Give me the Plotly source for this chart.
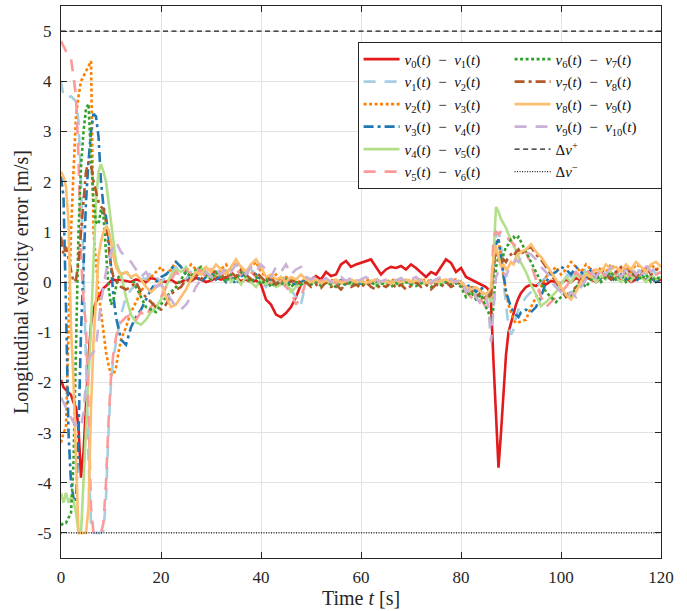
import numpy as np
import plotly.graph_objects as go

# ---------------- data ----------------
# time grid [s]: 0-12 every 0.5 s, 13-85 every 1 s, 85.5-92 every 0.5 s, 93-120 every 1 s
T = np.concatenate([np.arange(0, 12.5, 0.5), np.arange(13, 86, 1.0),
                    np.arange(85.5, 92.5, 0.5), np.arange(93, 121, 1.0)])

E01 = [-1.95, -2.1, -2.15, -2.2, -2.25, -2.4, -2.5, -2.9, -3.9, -3.4, -2.3, -1.5, -0.85, -0.55, -0.4, -0.3, -0.2, -0.12, -0.08, -0.02, 0.02, 0.05, 0.03, 0.05, 0.04,
       0.02, 0.0, 0.05, 0.02, 0.0, 0.08, 0.05, 0.02, 0.0, 0.05,
       -0.02, 0.0, 0.05, 0.02, 0.08, 0.05, 0.0, 0.03, 0.08, 0.05,
       0.1, 0.05, 0.08, 0.02, 0.05, 0.0, 0.03, -0.05, -0.35, -0.45,
       -0.65, -0.7, -0.62, -0.5, -0.3, -0.05, 0.0, 0.05, 0.12, 0.05,
       0.2, 0.12, 0.15, 0.35, 0.42, 0.3, 0.35, 0.38, 0.42, 0.45,
       0.3, 0.15, 0.25, 0.3, 0.28, 0.32, 0.25, 0.35, 0.28, 0.18,
       0.1, 0.2, 0.15, 0.3, 0.45, 0.38, 0.2, 0.28, 0.1, 0.05,
       0.0, -0.05, -0.1,
       -0.15, -0.4, -1.6, -2.7, -3.7, -3.0, -2.2, -1.45, -1.0, -0.8, -0.6, -0.45, -0.32, -0.22,
       -0.1, -0.05, -0.08, 0.0, -0.05, 0.02, 0.0, -0.03, 0.05, 0.0, 0.08, 0.03, 0.1, 0.05, 0.0,
       0.08, 0.12, 0.05, 0.1, 0.02, 0.08, 0.0, 0.05, 0.1, 0.03, 0.08, 0.0, 0.05]

E12 = [4.0, 3.7, 3.68, 3.68, 3.7, 3.65, 3.6, 3.2, 2.0, 0.3, -1.8, -3.5, -4.8, -5.0, -5.0, -5.0, -5.0, -4.95, -4.3, -3.0, -2.0, -1.5, -1.2, -0.9, -0.65,
       -0.3, -0.15, -0.05, 0.1, 0.05, 0.2, 0.1, 0.0, 0.1, 0.2,
       0.3, 0.15, 0.05, 0.2, 0.1, 0.25, 0.15, 0.05, 0.2, 0.1,
       0.0, 0.15, 0.05, 0.2, 0.1, 0.25, 0.15, 0.0, -0.1, 0.05,
       -0.05, 0.1, 0.0, -0.15, -0.3, -0.45, 0.0, 0.02, -0.02, 0.03,
       0.0, -0.02, 0.02, 0.0, -0.05, 0.02, 0.0, 0.03, -0.02, 0.0,
       0.02, -0.03, 0.0, 0.02, -0.02, 0.0, 0.03, -0.05, 0.0, 0.02,
       -0.02, 0.0, 0.03, 0.0, -0.02, 0.02, 0.0, -0.05, -0.15, -0.2,
       -0.3, -0.25, -0.35,
       -0.3, -0.4, 0.2, 0.9, 1.0, 0.8, 0.0, -0.5, -0.9, -1.05, -0.95, -0.7, -0.55, -0.45,
       -0.3, -0.2, -0.1, 0.0, 0.1, 0.0, -0.1, 0.05, 0.15, 0.1, 0.25, 0.1, 0.3, 0.2, 0.05,
       0.2, 0.15, 0.35, 0.2, 0.1, 0.3, 0.1, 0.25, 0.2, 0.15, 0.3, 0.15, 0.2]

E23 = [-3.2, -3.0, -2.9, -1.0, 1.0, 2.2, 3.3, 3.7, 4.0, 4.1, 4.2, 4.3, 4.4, 1.0, 0.4, -0.2, -0.6, -1.0, -1.4, -1.65, -1.85, -1.85, -1.7, -1.4, -1.15,
       -0.9, -0.6, -0.4, -0.2, 0.0, 0.1, 0.2, 0.3, 0.15, 0.25,
       0.4, 0.3, 0.2, 0.35, 0.25, 0.15, 0.3, 0.2, 0.1, 0.25,
       0.35, 0.2, 0.4, 0.3, 0.15, 0.3, 0.4, 0.2, 0.1, 0.05,
       0.15, 0.0, 0.1, 0.05, -0.05, 0.05, 0.0, 0.05, 0.0, 0.02,
       -0.03, 0.05, 0.0, 0.02, 0.05, -0.02, 0.03, 0.0, 0.05, 0.02,
       -0.02, 0.03, 0.0, 0.05, 0.02, -0.03, 0.02, 0.05, 0.0, 0.03,
       0.05, 0.0, 0.02, 0.05, 0.0, 0.03, 0.05, 0.0, -0.15, -0.1,
       -0.2, -0.15, -0.3,
       -0.25, -0.35, 0.3, 0.8, 0.85, 0.5, 0.1, -0.2, -0.45, -0.6, -0.75, -0.82, -0.8, -0.78,
       -0.75, -0.5, -0.3, -0.1, 0.1, 0.2, 0.3, 0.15, 0.25, 0.4, 0.3, 0.2, 0.35, 0.25, 0.15,
       0.3, 0.2, 0.35, 0.25, 0.15, 0.3, 0.2, 0.35, 0.3, 0.2, 0.35, 0.25, 0.3]

E34 = [2.1, 1.7, -0.5, -3.0, -4.0, -4.3, -4.4, -3.0, -1.0, 0.5, 1.6, 2.4, 3.0, 3.35, 3.3, 2.9, 2.0, 1.5, 1.3, 0.9, 0.3, -0.3, -0.7, -0.95, -1.15,
       -1.25, -0.9, -0.7, -0.55, -0.35, -0.15, 0.0, 0.1, 0.15, 0.25,
       0.4, 0.3, 0.15, 0.05, 0.15, 0.0, 0.1, 0.2, 0.05, 0.15,
       0.0, 0.1, -0.05, 0.1, 0.2, 0.05, 0.15, 0.05, -0.05, 0.05,
       -0.1, 0.0, -0.05, 0.05, -0.1, 0.0, 0.02, -0.02, 0.03, 0.0,
       -0.03, 0.02, 0.0, 0.03, -0.02, 0.0, 0.02, -0.03, 0.0, 0.02,
       0.0, -0.02, 0.03, 0.0, -0.02, 0.02, 0.0, -0.03, 0.02, 0.0,
       -0.02, 0.03, 0.0, -0.02, 0.02, 0.0, -0.03, 0.0, -0.1, -0.05,
       -0.2, -0.1, -0.25,
       -0.2, -0.3, 0.3, 0.75, 0.85, 0.5, 0.1, -0.2, -0.35, -0.5, -0.6, -0.65, -0.7, -0.6,
       -0.55, -0.6, -0.5, -0.3, 0.0, 0.15, 0.2, 0.3, 0.25, 0.15, 0.3, 0.2, 0.1, 0.25, 0.15,
       0.05, 0.2, 0.1, 0.0, 0.15, 0.05, 0.1, 0.0, 0.15, 0.05, 0.1, 0.0, 0.05]

E45 = [-4.2, -4.4, -4.2, -4.4, -4.3, -4.35, -4.6, -5.0, -5.0, -4.0, -3.0, -1.8, -0.9, 0.4, 1.6, 2.2, 2.35, 2.2, 2.0, 1.6, 1.2, 0.8, 0.4, 0.25, 0.15,
       -0.3, -0.65, -0.8, -0.85, -0.75, -0.6, -0.5, -0.35, -0.1, 0.15,
       0.25, 0.2, 0.3, 0.1, 0.2, 0.3, 0.15, 0.05, 0.2, 0.1,
       0.25, 0.0, 0.1, -0.05, 0.1, 0.0, -0.1, 0.05, -0.05, 0.0,
       -0.1, -0.05, 0.0, -0.2, -0.1, -0.05, 0.0, -0.05, 0.02, -0.03,
       0.0, -0.05, 0.02, -0.02, 0.0, -0.05, 0.02, 0.0, -0.03, 0.02,
       -0.05, 0.0, -0.02, 0.02, -0.05, 0.0, -0.02, 0.02, -0.03, 0.0,
       -0.05, 0.02, 0.0, -0.03, 0.02, -0.02, 0.0, -0.05, -0.15, -0.2,
       -0.25, -0.3, -0.35,
       -0.3, -0.4, 0.5, 1.5, 1.4, 1.25, 1.17, 1.08, 0.95, 0.82, 0.73, 0.63, 0.5, 0.38,
       0.2, -0.05, -0.25, -0.48, -0.4, -0.3, -0.2, -0.05, 0.1, 0.0, 0.15, 0.05, 0.2, 0.1, 0.0,
       0.12, 0.05, 0.2, 0.08, 0.0, 0.15, 0.02, 0.18, 0.1, 0.0, 0.15, 0.05, 0.1]

E56 = [4.8, 4.7, 4.6, 4.55, 4.45, 4.1, 3.7, 2.5, 0.5, -0.35, -0.9, -2.5, -4.5, -5.0, -5.0, -5.0, -5.0, -4.8, -4.0, -2.8, -1.9, -1.4, -1.1, -0.9, -0.8,
       -0.7, -0.65, -0.75, -0.6, -0.7, -0.5, -0.35, -0.3, -0.1, 0.05,
       0.2, 0.1, 0.25, 0.15, 0.3, 0.2, 0.1, 0.25, 0.15, 0.3,
       0.2, 0.1, 0.25, 0.15, 0.3, 0.2, 0.1, 0.15, 0.05, -0.05,
       0.1, 0.0, -0.1, -0.2, -0.45, -0.3, 0.0, 0.05, -0.02, 0.03,
       0.0, 0.05, -0.03, 0.02, 0.0, 0.05, -0.02, 0.03, 0.0, -0.03,
       0.05, 0.0, 0.02, -0.02, 0.03, 0.0, 0.05, -0.02, 0.02, 0.0,
       0.03, -0.03, 0.02, 0.0, 0.03, -0.02, 0.0, -0.1, -0.2, -0.3,
       -0.4, -0.35, -0.5,
       -0.45, -0.3, 0.9, 1.0, 0.95, 1.0, 1.0, 0.95, 0.85, 0.8, 0.75, 0.7, 0.65, 0.62,
       0.6, 0.35, 0.05, -0.3, -0.5, -0.4, -0.3, -0.2, -0.1, 0.05, 0.2, 0.1, 0.25, 0.15, 0.3,
       0.2, 0.1, 0.25, 0.15, 0.3, 0.2, 0.1, 0.25, 0.15, 0.3, 0.2, 0.15, 0.2]

E67 = [-4.85, -4.8, -4.8, -4.7, -4.6, -3.6, -1.5, 1.0, 2.3, 3.0, 3.45, 3.55, 2.5, 1.6, 1.2, 1.15, 1.45, 1.3, 0.6, -0.1, -0.45, -0.35, -0.1, 0.1, 0.15,
       0.2, 0.1, -0.1, -0.3, -0.5, -0.55, -0.6, -0.45, -0.3, -0.2,
       -0.1, 0.05, 0.2, 0.1, 0.25, 0.3, 0.15, 0.05, 0.2, 0.1,
       0.0, 0.15, 0.05, 0.2, 0.1, 0.0, 0.1, -0.05, 0.05, -0.1,
       0.0, -0.05, 0.05, -0.1, 0.0, -0.05, 0.0, -0.05, 0.0, -0.08,
       -0.02, -0.05, -0.1, -0.02, -0.06, 0.0, -0.08, -0.03, -0.06, 0.0,
       -0.08, -0.03, -0.05, -0.1, -0.02, -0.06, 0.0, -0.05, -0.08, -0.02,
       -0.05, -0.1, -0.03, -0.06, 0.0, -0.05, -0.02, -0.1, -0.3, -0.2,
       -0.35, -0.25, -0.5,
       -0.6, -0.85, -0.5, 0.3, 0.5, 0.4, 0.55, 0.7, 0.75, 0.85, 0.9, 0.85, 0.9, 0.8,
       0.6, 0.4, 0.2, 0.0, -0.2, -0.3, -0.4, -0.3, -0.2, -0.3, -0.1, 0.0, -0.1, 0.05, 0.15,
       0.0, 0.1, 0.2, 0.05, 0.15, 0.0, 0.1, 0.2, 0.05, 0.15, 0.0, 0.1, 0.05]

E78 = [0.9, 0.55, 0.7, 0.45, 0.2, 0.0, 0.05, 0.4, 1.0, 1.6, 2.2, 2.4, 2.35, 2.0, 1.8, 1.6, 1.5, 1.45, 1.2, 0.7, 0.3, 0.1, 0.05, -0.05, -0.1,
       -0.15, -0.1, 0.0, -0.2, -0.3, -0.4, -0.5, -0.55, -0.45, -0.25,
       -0.15, -0.1, 0.05, 0.0, 0.15, 0.05, 0.2, 0.1, 0.25, 0.15,
       0.05, 0.2, 0.1, 0.25, 0.15, 0.05, 0.2, 0.1, 0.0, 0.1,
       -0.05, 0.05, 0.1, 0.0, 0.05, -0.05, 0.0, -0.1, -0.05, -0.12,
       0.0, -0.1, -0.05, -0.15, -0.02, -0.1, -0.05, -0.12, 0.0, -0.1,
       -0.15, -0.05, -0.1, 0.0, -0.12, -0.05, -0.15, -0.08, 0.0, -0.1,
       -0.05, -0.15, -0.05, -0.1, 0.0, -0.1, -0.05, 0.0, -0.2, -0.15,
       -0.3, -0.2, -0.35,
       -0.3, -0.25, 0.3, 0.6, 0.5, 0.35, 0.45, 0.4, 0.5, 0.55, 0.5, 0.6, 0.65, 0.55,
       0.65, 0.7, 0.55, 0.45, 0.3, 0.15, 0.0, -0.15, -0.3, -0.2, -0.1, 0.05, 0.0, 0.15, 0.1,
       0.25, 0.15, 0.05, 0.2, 0.3, 0.15, 0.25, 0.1, 0.2, 0.3, 0.15, 0.25, 0.2]

E89 = [2.2, 2.1, 1.9, 1.2, -0.9, -2.0, -3.5, -5.0, -5.0, -5.0, -5.0, -4.5, -2.5, -1.2, -0.2, 0.5, 0.8, 1.0, 1.1, 1.05, 0.8, 0.5, 0.3, 0.2, 0.15,
       0.2, 0.1, 0.15, 0.05, -0.1, -0.2, -0.1, 0.0, -0.3, -0.5,
       -0.45, -0.3, -0.15, 0.05, 0.2, 0.15, 0.3, 0.2, 0.35, 0.25,
       0.15, 0.3, 0.45, 0.3, 0.2, 0.35, 0.45, 0.3, 0.1, 0.15,
       0.05, 0.1, 0.0, 0.1, 0.05, 0.15, 0.05, 0.0, 0.05, -0.02,
       0.03, 0.0, 0.05, -0.02, 0.02, 0.05, 0.0, 0.03, -0.02, 0.02,
       0.05, 0.0, 0.02, -0.03, 0.03, 0.0, 0.05, 0.0, 0.02, 0.05,
       -0.02, 0.02, 0.0, 0.03, 0.05, 0.0, 0.02, 0.0, -0.1, -0.15,
       -0.1, -0.2, -0.25,
       -0.2, -0.1, 0.5, 0.7, 0.5, 0.3, 0.35, 0.25, 0.3, 0.4, 0.35, 0.5, 0.55, 0.6,
       0.65, 0.75, 0.6, 0.5, 0.35, 0.2, 0.05, -0.1, -0.25, -0.35, -0.2, 0.0, 0.15, 0.1, 0.25,
       0.2, 0.35, 0.25, 0.3, 0.2, 0.35, 0.25, 0.4, 0.3, 0.2, 0.35, 0.4, 0.3]

E910 = [-2.3, -2.4, -2.5, -2.6, -2.7, -2.8, -2.85, -2.9, -2.9, -2.6, -2.0, -1.6, -1.45, -1.4, -1.3, -0.8, -0.4, -0.1, 0.2, 0.4, 0.6, 0.75, 0.8, 0.7, 0.6,
        0.5, 0.4, 0.25, 0.1, 0.2, 0.05, -0.1, -0.05, -0.2, -0.35,
        -0.5, -0.55, -0.45, -0.3, -0.1, 0.05, 0.2, 0.1, 0.25, 0.15,
        0.3, 0.2, 0.35, 0.25, 0.15, 0.3, 0.2, 0.35, 0.25, 0.1,
        0.3, 0.2, 0.35, 0.15, 0.25, 0.3, 0.1, 0.05, 0.1, 0.02,
        0.08, 0.0, 0.05, 0.1, 0.02, 0.08, 0.0, 0.05, 0.1, 0.03,
        0.07, 0.0, 0.05, 0.1, 0.03, 0.08, 0.0, 0.05, 0.1, 0.02,
        0.07, 0.0, 0.05, 0.1, 0.03, 0.06, 0.0, 0.05, -0.2, -0.1,
        -0.3, -0.45, -0.3,
        -0.5, -1.2, -0.6, 0.1, 0.2, 0.15, 0.2, 0.1, 0.25, 0.3, 0.35, 0.45, 0.4, 0.5,
        0.6, 0.55, 0.45, 0.3, 0.2, 0.05, -0.1, -0.2, -0.3, -0.2, -0.3, -0.1, 0.05, 0.2, 0.1,
        0.25, 0.15, 0.3, 0.2, 0.1, 0.25, 0.3, 0.15, 0.25, 0.35, 0.2, 0.3, 0.35]

DV_PLUS = 5.0
DV_MINUS = -5.0
T_LIMITS = [0, 120]

SERIES = [E01, E12, E23, E34, E45, E56, E67, E78, E89, E910]
for s in SERIES:
    assert len(s) == len(T), (len(s), len(T))

# ---------------- styles ----------------
COLORS = ['#e31a1c', '#a6cee3', '#ff7f00', '#1f78b4', '#b2df8a',
          '#fb9a99', '#33a02c', '#b15928', '#fdbf6f', '#cab2d6']
DASHES = ['solid', '12px,9px', '3px,2.5px', '10px,4px,3px,4px', 'solid',
          '12px,9px', '3px,2.5px', '10px,4px,3px,4px', 'solid', '12px,9px']
# column-major order of the two-column legend
RANKS = [1, 3, 5, 7, 9, 11, 2, 4, 6, 8]
SP = '\u2002\u2212\u2002'


def vname(i):
    return (f'<i>v</i><sub>{i}</sub>(<i>t</i>){SP}'
            f'<i>v</i><sub>{i + 1}</sub>(<i>t</i>)')


fig = go.Figure()
for i, ys in enumerate(SERIES):
    fig.add_trace(go.Scatter(
        x=T, y=ys, mode='lines', name=vname(i), legendrank=RANKS[i],
        line=dict(color=COLORS[i], width=2.6, dash=DASHES[i])))

fig.add_trace(go.Scatter(
    x=T_LIMITS, y=[DV_PLUS, DV_PLUS], mode='lines', name='\u0394<i>v</i><sup>+</sup>',
    legendrank=10, line=dict(color='#1a1a1a', width=1.2, dash='5px,3.5px')))
fig.add_trace(go.Scatter(
    x=T_LIMITS, y=[DV_MINUS, DV_MINUS], mode='lines', name='\u0394<i>v</i><sup>\u2212</sup>',
    legendrank=12, line=dict(color='#1a1a1a', width=1.2, dash='1px,1.5px')))

FONT = "Liberation Serif, 'Times New Roman', 'DejaVu Serif', serif"
AXCOL = '#262626'
GRID = '#e3e3e3'

fig.update_layout(
    width=687, height=611,
    margin=dict(l=61, r=26, t=6, b=53, autoexpand=False),
    paper_bgcolor='white', plot_bgcolor='white',
    font=dict(family=FONT, size=17, color=AXCOL),
    showlegend=True,
    legend=dict(
        orientation='h', x=1.001, xanchor='right', y=0.935, yanchor='top',
        bgcolor='white', bordercolor=AXCOL, borderwidth=1,
        font=dict(family=FONT, size=15, color='#111111'),
        itemwidth=36, entrywidth=100, entrywidthmode='pixels',
        traceorder='normal', itemclick=False,
    ),
    xaxis=dict(
        range=[0, 120], tickvals=[0, 20, 40, 60, 80, 100, 120],
        showgrid=True, gridcolor=GRID, gridwidth=1, zeroline=False,
        showline=True, linecolor=AXCOL, linewidth=1, mirror='ticks',
        ticks='inside', ticklen=6, tickcolor=AXCOL, tickwidth=1,
        ticklabelstandoff=4,
        tickfont=dict(family=FONT, size=17, color=AXCOL),
        title=dict(text='Time <i>t</i> [s]', standoff=4,
                   font=dict(family=FONT, size=20, color=AXCOL)),
        automargin=False,
    ),
    yaxis=dict(
        range=[-5.5, 5.5], tickvals=list(range(-5, 6)),
        ticktext=[str(v) for v in range(-5, 6)],
        showgrid=True, gridcolor=GRID, gridwidth=1, zeroline=False,
        showline=True, linecolor=AXCOL, linewidth=1, mirror='ticks',
        ticks='inside', ticklen=6, tickcolor=AXCOL, tickwidth=1,
        ticklabelstandoff=5,
        tickfont=dict(family=FONT, size=17, color=AXCOL),
        title=dict(text='Longitudinal velocity error [m/s]', standoff=3,
                   font=dict(family=FONT, size=20, color=AXCOL)),
        automargin=False,
    ),
)

fig.write_html('out.html', config={'displayModeBar': False},
               post_script="document.body.style.margin='0';")
